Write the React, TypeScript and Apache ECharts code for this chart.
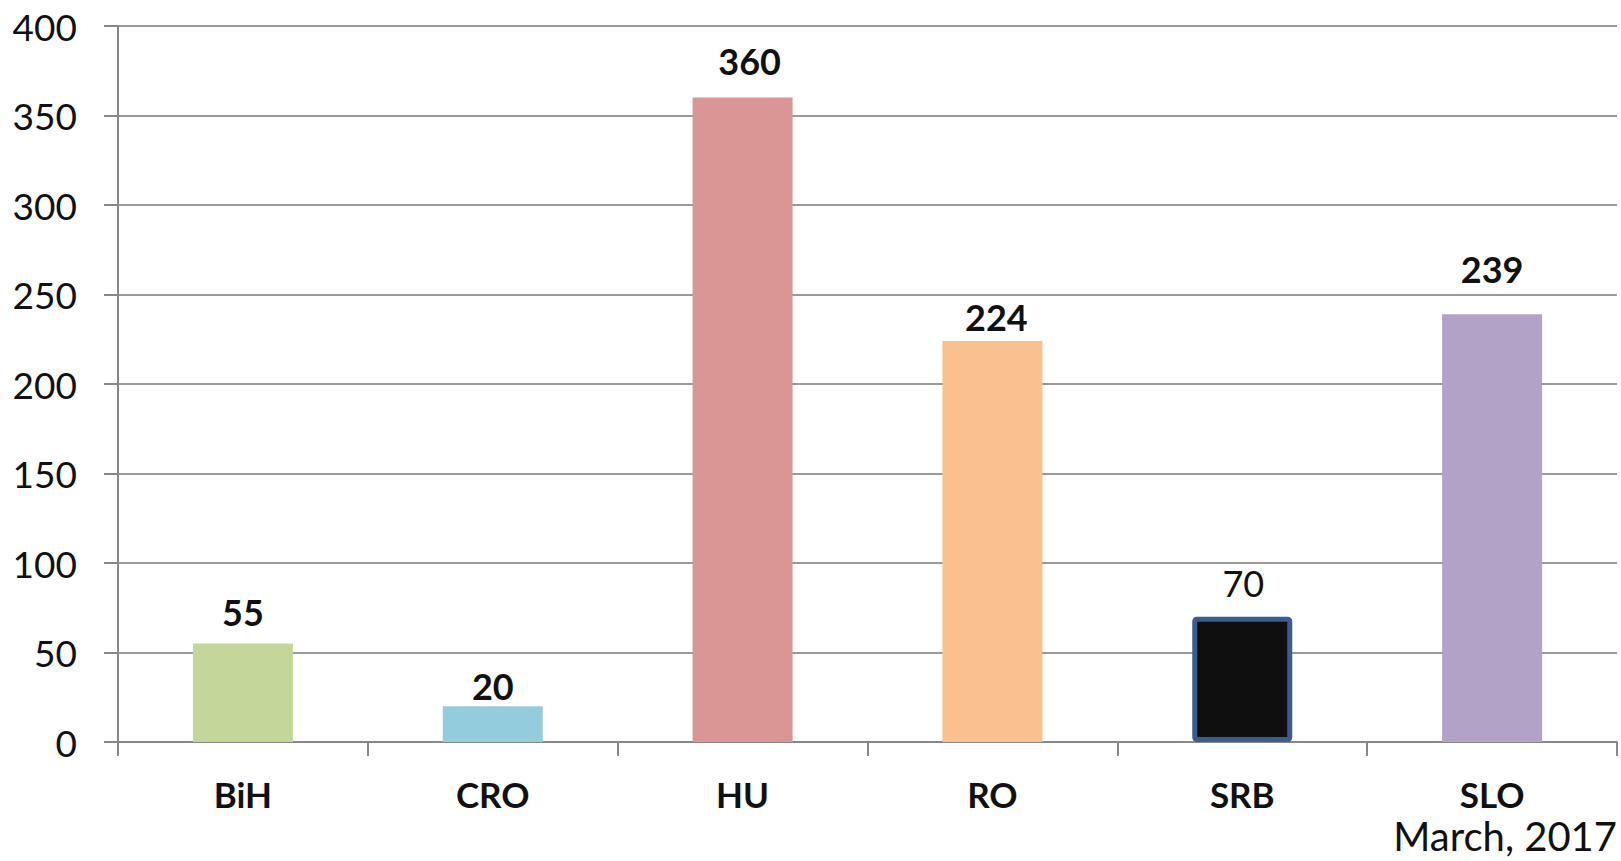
import React, { useEffect, useRef } from "react";
import * as echarts from "echarts";

// Country codes along the category axis
const countries = ["BiH", "CRO", "HU", "RO", "SRB", "SLO"];
// Value per country
const values = [55, 20, 360, 224, 70, 239];
// Bar fill colours, one per country
const barColors = ["#c4d79b", "#93cddd", "#d99694", "#fac090", "#0f0f0f", "#b3a2c7"];
// Gap between each bar top and its value label, and its sideways nudge
const labelGaps = [14, 2, 19, 6, 16, 27];
const labelShiftX = [0, 0, 7, 4, 1, 0];
// Value axis range and step
const yMin = 0;
const yMax = 400;
const yStep = 50;
const dateNote = "March, 2017";

const FONT = "Lato, 'Open Sans', sans-serif";

export default function App() {
  const ref = useRef<HTMLDivElement>(null);

  useEffect(() => {
    document.body.style.margin = "0";
    if (!ref.current) return;
    const chart = echarts.init(ref.current, null, { renderer: "svg" });

    const data = values.map((v, i) => {
      const isSrb = countries[i] === "SRB";
      return {
        value: v,
        itemStyle: isSrb
          ? { color: barColors[i], borderColor: "#3b5e8c", borderWidth: 5, borderRadius: 2 }
          : { color: barColors[i] },
        label: {
          distance: labelGaps[i],
          offset: [labelShiftX[i], 0],
          fontWeight: isSrb ? ("normal" as const) : ("bold" as const),
        },
      };
    });

    chart.setOption({
      animation: false,
      backgroundColor: "#ffffff",
      grid: { left: 118, right: 4, top: 26, bottom: 119, containLabel: false },
      xAxis: {
        type: "category",
        data: countries,
        axisLine: { show: true, lineStyle: { color: "#888888", width: 2 } },
        axisTick: { show: true, length: 14, lineStyle: { color: "#888888", width: 2 } },
        axisLabel: {
          fontFamily: FONT,
          fontSize: 35,
          fontWeight: "bold",
          color: "#111111",
          lineHeight: 35,
          margin: 34,
        },
      },
      yAxis: {
        type: "value",
        min: yMin,
        max: yMax,
        interval: yStep,
        axisLine: { show: true, lineStyle: { color: "#888888", width: 2 } },
        axisTick: { show: true, length: 14, lineStyle: { color: "#888888", width: 2 } },
        splitLine: { show: true, lineStyle: { color: "#9a9a9a", width: 2 } },
        axisLabel: {
          fontFamily: FONT,
          fontSize: 37,
          color: "#111111",
          margin: 41,
        },
      },
      series: [
        {
          type: "bar",
          data,
          barWidth: 100,
          label: {
            show: true,
            position: "top",
            fontFamily: FONT,
            fontSize: 36,
            lineHeight: 36,
            color: "#111111",
          },
        },
      ],
      graphic: [
        {
          type: "text",
          x: 1617,
          y: 836,
          style: {
            text: dateNote,
            fontFamily: FONT,
            fontSize: 40,
            lineHeight: 40,
            textAlign: "right",
            textVerticalAlign: "middle",
            fill: "#111111",
          },
        },
      ],
    });

    return () => chart.dispose();
  }, []);

  return <div ref={ref} style={{ width: 1621, height: 861 }} />;
}
